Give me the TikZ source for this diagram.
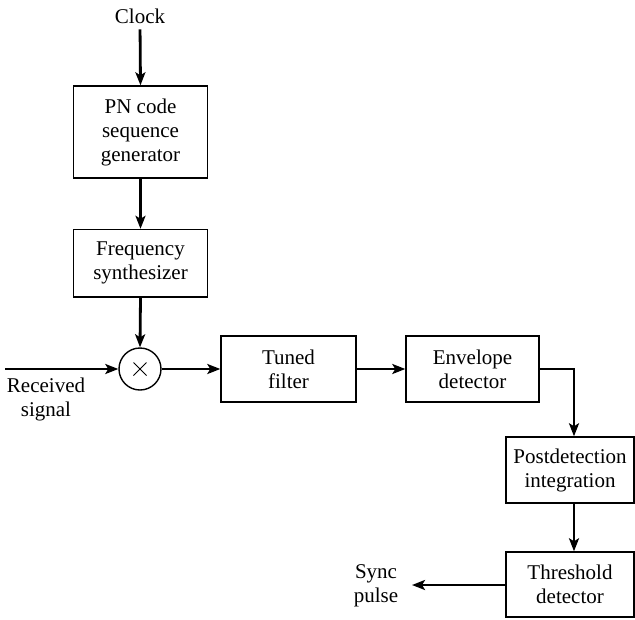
\documentclass[tikz,border=0pt]{standalone}
\usepackage{fontspec}
\setmainfont{Liberation Serif}
\newfontfamily\figfont{Liberation Serif}
\usetikzlibrary{arrows.meta,calc}
\begin{document}
\begin{tikzpicture}[x=1pt,y=-1pt,
  font=\figfont\fontsize{21}{24}\selectfont,
  blk/.style={draw,line width=1.4pt,minimum height=66pt,align=center,inner sep=0pt,fill=white},
  lbl/.style={align=center,inner sep=0pt},
  conn/.style={line width=2.8pt,-{Stealth[length=13pt,width=10pt,inset=3pt]}},
  wire/.style={line width=2.8pt}]
\useasboundingbox (0,0) rectangle (635,619);
\node[lbl,anchor=base] (clock) at (140,23) {Clock};
\node[blk,minimum width=134pt,minimum height=92pt] (pn) at (140.5,132) {PN code\\sequence\\generator};
\node[blk,minimum width=134pt,minimum height=67.5pt] (fs) at (140.5,263.25) {Frequency\\synthesizer};
\node[draw,circle,line width=1.4pt,minimum size=42pt,inner sep=0pt] (mix) at (140,369) {};
\draw[line width=0.8pt] ($(mix)+(-6.5,-6.5)$) -- ($(mix)+(6.5,6.5)$) ($(mix)+(-6.5,6.5)$) -- ($(mix)+(6.5,-6.5)$);
\node[blk,minimum width=135pt] (tf) at (288.5,369) {Tuned\\filter};
\node[blk,minimum width=133pt] (env) at (472.5,369) {Envelope\\detector};
\node[blk,minimum width=128pt] (post) at (570,470) {Postdetection\\integration};
\node[blk,minimum width=128pt,minimum height=65pt] (thr) at (570,584.5) {Threshold\\detector};
\node[lbl] (rx) at (46,399) {Received\\signal};
\node[lbl] (sync) at (376,586) {Sync\\pulse};
\coordinate (in) at (5,369);
\coordinate (out) at (412,585);
\draw[conn,shorten <=6pt] (clock.south) -- (pn.north);
\draw[conn] (pn.south) -- (fs.north);
\draw[conn] (fs.south) -- (mix.north);
\draw[conn] (in) -- (mix.west);
\draw[conn] (mix.east) -- (tf.west);
\draw[conn] (tf.east) -- (env.west);
\draw[conn] (env.east) -| ([xshift=4pt]post.north);
\draw[conn] ([xshift=4pt]post.south) -- ([xshift=4pt]thr.north);
\draw[conn] (thr.west |- out) -- (out);
\end{tikzpicture}
\end{document}
